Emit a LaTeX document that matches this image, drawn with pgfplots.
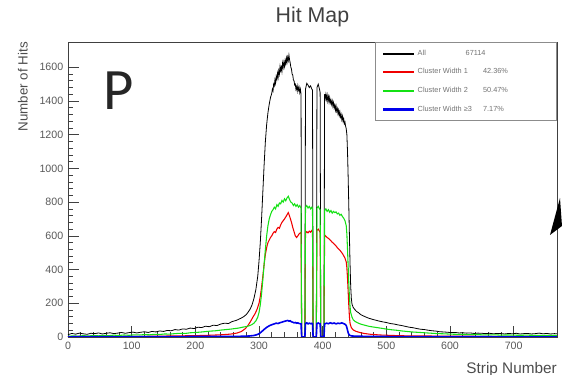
\documentclass[border=0pt]{standalone}
\usepackage{pgfplots}
\pgfplotsset{compat=1.18}
\usepackage{fontspec}
\setmainfont{Liberation Sans}
\newfontfamily\pfont{Carlito}
\definecolor{rootred}{RGB}{240,0,0}
\definecolor{rootgreen}{RGB}{20,225,20}
\definecolor{rootblue}{RGB}{0,0,235}
\begin{document}
\begin{tikzpicture}
\path[use as bounding box] (-51pt,-28.5pt) rectangle (370.5pt,252.75pt);
\begin{axis}[
  scale only axis, width=366.75pt, height=221.25pt,
  xmin=0, xmax=768, ymin=0, ymax=1750,
  axis line style={black!75, line width=0.6pt},
  xtick={0,100,...,700}, ytick={0,200,...,1600},
  minor tick num=4,
  tick align=inside, xtick pos=bottom, ytick pos=left,
  major tick length=8pt, minor tick length=4pt,
  tick style={black!75, line width=0.5pt},
  tick label style={font=\fontsize{8}{9}\selectfont, text=black!65},
  /pgf/number format/assume math mode=true,
  /pgf/number format/1000 sep={},
  xlabel={Strip Number}, ylabel={Number of Hits},
  label style={font=\fontsize{10}{11}\selectfont, text=black!70, inner sep=0pt},
  xlabel style={at={(1,0)}, anchor=north east, yshift=-19pt, font=\fontsize{11.5}{12}\selectfont},
  ylabel style={at={([xshift=-30pt]axis description cs:0,1)}, anchor=south east},
  title={Hit Map},
  title style={at={(0.5,1)}, anchor=base, yshift=8.25pt, inner sep=0pt, font=\fontsize{16}{18}\selectfont, text=black!75},
  legend style={at={(1,1)}, anchor=north east, draw=black!45, line width=0.9pt, fill=white,
    inner xsep=5pt, inner ysep=3.5pt, row sep=4.5pt,
    font=\fontsize{5.5}{6}\selectfont, text=black!55},
  legend cell align=left,
  legend image code/.code={\draw[#1, line width=1.6pt] (0pt,0pt) -- (23pt,0pt);},
]
\addplot[black, line width=0.6pt] coordinates {
(0,14) (6,21) (12,17) (18,23) (24,19) (30,16) (36,22) (42,20) (48,24) (54,18) (60,22) (66,25) (72,20) (78,23) (84,27) (90,22) (96,26) (102,29) (108,24) (114,28) (120,31) (126,27) (132,33) (138,30) (144,36) (150,33) (156,39) (162,37) (168,44) (174,41) (180,48) (186,46) (192,53) (198,50) (204,58) (210,56) (216,64) (222,61) (228,70) (234,68) (240,77) (246,82) (252,80) (258,92) (264,98) (268,105) (272,112) (276,121) (280,133) (283,148) (286,165) (289,190) (292,228) (295,280) (298,360) (300,450) (302,560) (304,700) (306,860) (308,1020) (310,1160) (312,1260) (314,1330) (316,1380) (318,1420)
(320,1445) (321,1470) (322,1460) (323,1500) (324,1490) (325,1525) (326,1505) (327,1545) (328,1530) (329,1565) (330,1540) (331,1580) (332,1560) (333,1605) (334,1580) (335,1600) (336,1575) (337,1625) (338,1600) (339,1630) (340,1605) (341,1640) (342,1620) (343,1655) (344,1630) (345,1660) (346,1640) (347,1672) (348,1645) (349,1625) (350,1600) (351,1590) (352,1560) (353,1555) (354,1525) (355,1520) (356,1495) (357,1500) (358,1470) (359,1485) (360,1460) (361,1490) (362,1465) (363,1480) (364,1450) (365,1470) (366,1440)
(367,0) (372,0) (373,1470) (375,1505) (377,1495) (379,1480) (381,1490) (383,1470) (384,1465) (385,0) (390,0) (391,1480) (393,1500) (395,1470) (396,1450) (397,0) (402,0)
(403,1440) (404,1415) (405,1440) (406,1410) (407,1435) (408,1400) (409,1425) (410,1395) (411,1420) (412,1390) (413,1405) (414,1380) (415,1400) (416,1370) (417,1390) (418,1360) (419,1375) (420,1345) (421,1370) (422,1340) (423,1355) (424,1325) (425,1345) (426,1315) (427,1335) (428,1305) (429,1320) (430,1290) (431,1310) (432,1280) (433,1295) (434,1265) (435,1275) (436,1250) (437,1235) (438,1200)
(439,1100) (440,950) (441,780) (442,600) (443,430) (444,300) (445,230) (446,195) (448,175) (450,165) (453,152) (456,145) (460,132) (464,125) (468,118) (472,112) (477,106) (482,101) (488,95) (494,90) (500,86) (506,80) (512,77) (518,72) (524,68) (530,63) (536,58) (542,55) (548,50) (554,46) (560,44) (566,40) (572,37) (578,35) (584,31) (590,30) (596,28) (602,26) (608,27) (614,24) (620,25) (626,23) (632,24) (638,21) (644,23) (650,22) (656,20) (662,22) (668,19) (674,21) (680,20) (686,18) (692,21) (698,19) (704,22) (710,18) (716,20) (722,21) (728,18) (734,20) (740,23) (746,19) (752,21) (758,18) (764,20) (768,19)
};
\addlegendentry{\makebox[97pt][l]{\makebox[36pt][l]{All}67114}}
\addplot[rootred, line width=0.8pt] coordinates {
(0,2) (20,3) (40,2) (60,3) (80,4) (100,3) (120,4) (140,5) (160,6) (180,7) (200,8) (220,10) (240,13) (255,17) (265,23) (272,32) (278,48) (282,65) (286,88) (290,115) (294,140) (297,165) (300,200) (302,240) (304,295) (306,360) (308,430) (310,490) (312,530) (314,560) (316,575) (318,590) (320,600) (322,615) (324,625) (326,620) (328,640) (330,650) (332,645) (334,665) (336,680) (338,690) (340,700) (342,712) (344,725) (346,738) (347,728) (349,705) (351,680) (353,650) (355,625) (357,600) (359,590) (361,600) (363,612) (365,618) (366,620) (367,0) (372,0) (373,615) (375,625) (377,618) (379,628) (381,622) (383,632) (384,625) (385,0) (390,0) (391,632) (393,640) (395,628) (396,620) (397,0) (402,0) (403,605) (405,598) (407,590) (409,585) (411,578) (413,570) (415,562) (417,555) (419,548) (421,540) (423,530) (425,522) (427,515) (429,505) (431,495) (433,482) (435,468) (437,445) (438,410) (439,350) (440,270) (441,190) (442,120) (443,80) (445,55) (448,42) (452,34) (458,27) (465,21) (475,16) (490,12) (510,9) (530,7) (560,6) (600,5) (650,4) (700,3) (768,3)
};
\addlegendentry{\makebox[97pt][l]{\makebox[49pt][l]{Cluster Width 1}42.36\%}}
\addplot[rootgreen, line width=0.8pt] coordinates {
(0,4) (8,7) (16,5) (24,8) (32,6) (40,9) (48,7) (56,10) (64,8) (72,11) (80,9) (88,12) (96,10) (104,13) (112,12) (120,14) (128,13) (136,16) (144,15) (152,18) (160,17) (168,20) (176,22) (184,21) (192,25) (200,27) (208,29) (216,32) (224,35) (232,37) (240,41) (248,44) (256,47) (262,50) (268,53) (274,58) (280,62) (285,67) (289,74) (292,82) (295,95) (298,118) (300,145) (302,190) (304,255) (306,340) (308,430) (310,520) (312,600) (314,660) (316,700) (318,725) (320,745) (322,755) (324,770) (326,760) (328,785) (330,775) (332,795) (334,790) (336,810) (338,800) (340,820) (342,808) (344,825) (346,835) (348,815) (350,800) (352,795) (354,780) (356,790) (358,775) (360,785) (362,770) (364,780) (366,765) (367,0) (372,0) (373,770) (375,780) (377,765) (379,775) (381,760) (383,770) (384,760) (385,0) (390,0) (391,765) (393,775) (395,760) (396,755) (397,0) (402,0) (403,750) (405,760) (407,745) (409,755) (411,740) (413,750) (415,735) (417,745) (419,738) (421,742) (423,730) (425,735) (427,722) (429,728) (431,715) (433,705) (435,690) (437,660) (438,610) (439,520) (440,420) (441,320) (442,240) (443,180) (444,145) (446,118) (448,102) (451,92) (455,84) (460,76) (466,70) (472,64) (478,60) (485,56) (492,52) (500,47) (508,43) (516,40) (524,36) (532,33) (540,30) (548,28) (556,26) (564,24) (572,22) (580,20) (590,19) (600,17) (610,16) (620,15) (630,14) (640,15) (650,13) (660,12) (670,13) (680,11) (690,12) (700,11) (710,10) (720,11) (730,10) (740,9) (750,10) (760,9) (768,9)
};
\addlegendentry{\makebox[97pt][l]{\makebox[49pt][l]{Cluster Width 2}50.47\%}}
\addplot[rootblue, line width=1.2pt] coordinates {
(0,1) (40,2) (80,1) (120,2) (160,2) (200,3) (240,3) (270,4) (285,6) (292,9) (296,13) (300,19) (303,28) (306,38) (309,48) (312,57) (315,64) (318,70) (321,74) (324,78) (327,82) (330,80) (333,85) (336,88) (339,92) (342,95) (345,98) (347,94) (349,96) (351,90) (353,88) (355,84) (357,86) (359,82) (361,84) (363,80) (366,78) (367,0) (372,0) (373,80) (375,84) (377,78) (379,82) (381,79) (383,81) (384,78) (385,0) (390,0) (391,80) (393,83) (395,79) (396,78) (397,0) (402,0) (403,78) (406,82) (409,79) (412,84) (415,80) (418,83) (421,78) (424,82) (427,80) (430,84) (433,79) (435,76) (437,68) (438,55) (439,40) (440,26) (441,16) (443,9) (446,6) (452,5) (465,4) (490,3) (530,2) (600,2) (680,1) (768,1)
};
\addlegendentry{\makebox[97pt][l]{\makebox[49pt][l]{Cluster Width ≥3}7.17\%}}
\node[font=\pfont\fontsize{44}{44}\selectfont, text=black!85, inner sep=0pt] at (axis cs:80,1459) {P};
\end{axis}
\fill[black] (361.5pt,76.5pt) -- (369pt,104.25pt) -- (370.5pt,83.25pt) -- cycle;
\end{tikzpicture}
\end{document}
